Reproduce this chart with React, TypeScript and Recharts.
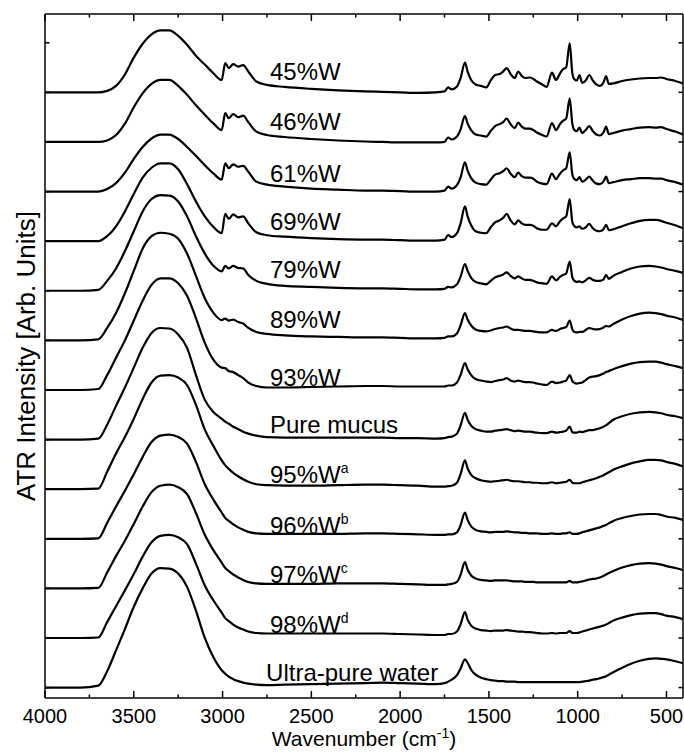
import React from 'react';
import { LineChart, Line, XAxis, YAxis, ReferenceDot } from 'recharts';

const FONT = '"Liberation Sans", Arial, Helvetica, sans-serif';

// Wavenumber grid (cm-1)
const WN = [
  4000, 3900, 3800, 3700, 3650, 3600, 3550, 3500, 3450, 3400, 3350, 3300, 3250, 3200, 3150, 3100, 3050,
  3005, 2985, 2965, 2940, 2912, 2884, 2855, 2810, 2750, 2650, 2500, 2350, 2200, 2100, 2000, 1900, 1800,
  1750, 1730, 1710, 1680, 1660, 1635, 1620, 1600, 1575, 1545, 1515, 1490, 1465, 1440, 1420, 1400, 1378, 1355, 1335, 1315, 1295, 1270, 1250, 1230, 1200,
  1175, 1145, 1122, 1100, 1082, 1065, 1045, 1030, 1018, 1005, 990, 975, 955, 935, 915, 895, 875, 855, 840, 825, 800, 750, 700, 650, 600, 560, 530, 500, 450, 407,
];

// Intensities above each spectrum's own baseline (arb. units)
const W45 = [
  0, 0, 0, 0, 0.03, 0.13, 0.36, 0.70, 0.98, 1.17, 1.25, 1.25, 1.14, 0.96, 0.74, 0.56, 0.38,
  0.25, 0.59, 0.49, 0.57, 0.52, 0.55, 0.42, 0.22, 0.15, 0.11, 0.07, 0.04, 0.02, 0.01, 0, -0.01, 0,
  0.02, 0.10, 0.06, 0.12, 0.28, 0.60, 0.42, 0.25, 0.16, 0.13, 0.10, 0.24, 0.35, 0.37, 0.42, 0.49, 0.37, 0.29, 0.42, 0.33, 0.29, 0.30, 0.27, 0.22, 0.16,
  0.11, 0.40, 0.25, 0.38, 0.47, 0.50, 0.99, 0.38, 0.26, 0.24, 0.35, 0.19, 0.24, 0.35, 0.24, 0.16, 0.13, 0.20, 0.33, 0.17, 0.18, 0.23, 0.26, 0.28, 0.29, 0.29, 0.30, 0.27, 0.23, 0.18,
];
const W46 = [
  0, 0, 0, 0, 0.03, 0.14, 0.37, 0.70, 0.98, 1.17, 1.25, 1.25, 1.13, 0.95, 0.74, 0.55, 0.37,
  0.24, 0.58, 0.48, 0.56, 0.50, 0.53, 0.40, 0.21, 0.14, 0.10, 0.06, 0.03, 0.01, 0.0, -0.01, -0.01, -0.01,
  0.0, 0.09, 0.05, 0.11, 0.25, 0.52, 0.37, 0.24, 0.15, 0.13, 0.11, 0.22, 0.32, 0.36, 0.40, 0.47, 0.36, 0.28, 0.39, 0.31, 0.27, 0.27, 0.24, 0.19, 0.14,
  0.11, 0.38, 0.24, 0.36, 0.43, 0.47, 0.88, 0.36, 0.24, 0.22, 0.29, 0.18, 0.24, 0.32, 0.22, 0.15, 0.13, 0.19, 0.31, 0.16, 0.18, 0.23, 0.26, 0.29, 0.30, 0.29, 0.30, 0.26, 0.21, 0.15,
];
const W61 = [
  0, 0, 0, 0, 0.05, 0.17, 0.38, 0.66, 0.90, 1.07, 1.15, 1.15, 1.06, 0.90, 0.72, 0.53, 0.36,
  0.24, 0.57, 0.47, 0.55, 0.50, 0.52, 0.40, 0.20, 0.14, 0.10, 0.06, 0.04, 0.02, 0.02, 0.01, 0.0, 0.0,
  0.02, 0.10, 0.06, 0.13, 0.28, 0.59, 0.42, 0.27, 0.18, 0.15, 0.14, 0.24, 0.34, 0.37, 0.41, 0.47, 0.36, 0.29, 0.38, 0.31, 0.28, 0.28, 0.26, 0.20, 0.16,
  0.15, 0.36, 0.25, 0.36, 0.43, 0.47, 0.79, 0.34, 0.25, 0.23, 0.29, 0.20, 0.24, 0.30, 0.22, 0.16, 0.15, 0.20, 0.30, 0.17, 0.19, 0.23, 0.25, 0.27, 0.27, 0.26, 0.26, 0.23, 0.19, 0.14,
];
const W69 = [
  0, 0, 0, 0, 0.10, 0.30, 0.60, 0.95, 1.28, 1.48, 1.57, 1.57, 1.45, 1.15, 0.80, 0.50, 0.28,
  0.16, 0.55, 0.45, 0.54, 0.48, 0.50, 0.36, 0.18, 0.12, 0.09, 0.06, 0.04, 0.03, 0.03, 0.02, 0.01, 0.01,
  0.03, 0.12, 0.08, 0.16, 0.35, 0.70, 0.50, 0.32, 0.20, 0.17, 0.16, 0.28, 0.38, 0.42, 0.47, 0.55, 0.42, 0.34, 0.42, 0.36, 0.33, 0.33, 0.31, 0.26, 0.23,
  0.23, 0.36, 0.30, 0.40, 0.46, 0.50, 0.85, 0.38, 0.30, 0.28, 0.30, 0.25, 0.28, 0.35, 0.26, 0.21, 0.20, 0.24, 0.33, 0.22, 0.24, 0.30, 0.36, 0.41, 0.43, 0.43, 0.41, 0.37, 0.32, 0.26,
];
const W79 = [
  0, 0, 0, 0.02, 0.20, 0.45, 0.80, 1.20, 1.60, 1.85, 1.93, 1.92, 1.80, 1.50, 1.10, 0.75, 0.50,
  0.39, 0.50, 0.45, 0.50, 0.46, 0.45, 0.32, 0.20, 0.14, 0.10, 0.08, 0.06, 0.05, 0.05, 0.04, 0.03, 0.03,
  0.04, 0.08, 0.07, 0.13, 0.28, 0.54, 0.40, 0.26, 0.18, 0.15, 0.13, 0.20, 0.27, 0.30, 0.33, 0.37, 0.30, 0.25, 0.29, 0.25, 0.22, 0.22, 0.20, 0.17, 0.15,
  0.14, 0.29, 0.21, 0.28, 0.32, 0.35, 0.59, 0.27, 0.20, 0.18, 0.19, 0.17, 0.21, 0.26, 0.22, 0.20, 0.20, 0.23, 0.32, 0.24, 0.30, 0.38, 0.45, 0.49, 0.50, 0.49, 0.47, 0.44, 0.40, 0.36,
];
const W89 = [
  0, 0, 0, 0.02, 0.25, 0.55, 0.95, 1.40, 1.85, 2.10, 2.17, 2.15, 2.05, 1.75, 1.30, 0.85, 0.55,
  0.41, 0.44, 0.40, 0.42, 0.37, 0.34, 0.25, 0.17, 0.13, 0.10, 0.08, 0.07, 0.06, 0.06, 0.05, 0.04, 0.04,
  0.05, 0.08, 0.08, 0.14, 0.30, 0.55, 0.42, 0.30, 0.22, 0.19, 0.18, 0.20, 0.23, 0.25, 0.26, 0.28, 0.24, 0.21, 0.21, 0.20, 0.19, 0.19, 0.18, 0.17, 0.16,
  0.16, 0.21, 0.19, 0.23, 0.25, 0.27, 0.40, 0.22, 0.17, 0.16, 0.17, 0.17, 0.21, 0.25, 0.23, 0.22, 0.23, 0.26, 0.29, 0.28, 0.33, 0.42, 0.49, 0.54, 0.56, 0.55, 0.53, 0.50, 0.46, 0.41,
];
const W93 = [
  0, 0, 0, 0.02, 0.30, 0.65, 1.00, 1.40, 1.80, 2.12, 2.25, 2.25, 2.15, 1.90, 1.45, 0.95, 0.60,
  0.45, 0.44, 0.38, 0.36, 0.30, 0.24, 0.15, 0.08, 0.05, 0.05, 0.06, 0.07, 0.08, 0.08, 0.07, 0.07, 0.07,
  0.07, 0.09, 0.09, 0.15, 0.30, 0.54, 0.42, 0.30, 0.22, 0.19, 0.17, 0.16, 0.18, 0.20, 0.21, 0.24, 0.19, 0.17, 0.19, 0.17, 0.16, 0.16, 0.15, 0.13, 0.11,
  0.10, 0.17, 0.14, 0.15, 0.17, 0.19, 0.30, 0.18, 0.14, 0.13, 0.14, 0.15, 0.20, 0.25, 0.27, 0.28, 0.30, 0.33, 0.36, 0.38, 0.42, 0.48, 0.53, 0.56, 0.57, 0.57, 0.55, 0.52, 0.48, 0.44,
];
const MUCUS = [
  0, 0, 0, 0.02, 0.30, 0.68, 1.05, 1.45, 1.85, 2.15, 2.25, 2.24, 2.12, 1.85, 1.30, 0.80, 0.55,
  0.42, 0.36, 0.32, 0.26, 0.21, 0.16, 0.12, 0.08, 0.05, 0.04, 0.04, 0.04, 0.04, 0.04, 0.03, 0.03, 0.02,
  0.03, 0.05, 0.06, 0.12, 0.28, 0.54, 0.40, 0.28, 0.21, 0.18, 0.16, 0.16, 0.18, 0.19, 0.20, 0.21, 0.19, 0.17, 0.18, 0.17, 0.16, 0.16, 0.15, 0.14, 0.13,
  0.13, 0.16, 0.14, 0.15, 0.16, 0.18, 0.26, 0.15, 0.14, 0.14, 0.16, 0.15, 0.17, 0.19, 0.19, 0.21, 0.23, 0.26, 0.29, 0.33, 0.40, 0.47, 0.52, 0.55, 0.56, 0.55, 0.53, 0.50, 0.47, 0.43,
];
const W95 = [
  0, 0, 0, 0.01, 0.35, 0.72, 1.05, 1.42, 1.82, 2.15, 2.29, 2.30, 2.25, 2.10, 1.70, 1.20, 0.86,
  0.58, 0.48, 0.41, 0.33, 0.26, 0.20, 0.15, 0.10, 0.08, 0.07, 0.07, 0.08, 0.09, 0.09, 0.08, 0.07, 0.05,
  0.05, 0.06, 0.07, 0.13, 0.30, 0.58, 0.42, 0.29, 0.22, 0.18, 0.16, 0.15, 0.16, 0.17, 0.18, 0.19, 0.17, 0.16, 0.16, 0.15, 0.14, 0.14, 0.13, 0.13, 0.12,
  0.12, 0.14, 0.12, 0.13, 0.14, 0.15, 0.19, 0.13, 0.12, 0.12, 0.12, 0.14, 0.16, 0.18, 0.20, 0.22, 0.25, 0.28, 0.31, 0.34, 0.39, 0.46, 0.52, 0.56, 0.59, 0.59, 0.58, 0.55, 0.51, 0.46,
];
const W96 = [
  0, 0, 0, 0.01, 0.32, 0.65, 0.97, 1.30, 1.65, 1.95, 2.08, 2.10, 2.05, 1.92, 1.55, 1.10, 0.78,
  0.53, 0.42, 0.36, 0.29, 0.23, 0.18, 0.14, 0.11, 0.10, 0.10, 0.10, 0.10, 0.11, 0.11, 0.10, 0.09, 0.08,
  0.08, 0.09, 0.09, 0.13, 0.27, 0.53, 0.38, 0.25, 0.18, 0.15, 0.14, 0.13, 0.14, 0.14, 0.14, 0.15, 0.14, 0.13, 0.13, 0.12, 0.12, 0.11, 0.11, 0.11, 0.10,
  0.10, 0.11, 0.10, 0.10, 0.11, 0.11, 0.13, 0.10, 0.10, 0.10, 0.11, 0.13, 0.15, 0.17, 0.19, 0.21, 0.23, 0.26, 0.28, 0.31, 0.36, 0.42, 0.46, 0.49, 0.50, 0.50, 0.48, 0.45, 0.42, 0.38,
];
const W97 = [
  0, 0, 0, 0.01, 0.32, 0.65, 0.96, 1.30, 1.65, 1.94, 2.07, 2.09, 2.04, 1.90, 1.52, 1.08, 0.76,
  0.52, 0.41, 0.35, 0.28, 0.22, 0.17, 0.13, 0.10, 0.09, 0.09, 0.09, 0.10, 0.10, 0.10, 0.09, 0.08, 0.07,
  0.07, 0.08, 0.09, 0.13, 0.27, 0.53, 0.38, 0.26, 0.20, 0.17, 0.16, 0.15, 0.16, 0.16, 0.16, 0.16, 0.15, 0.14, 0.14, 0.14, 0.13, 0.13, 0.13, 0.12, 0.12,
  0.12, 0.12, 0.12, 0.12, 0.12, 0.12, 0.15, 0.12, 0.12, 0.12, 0.13, 0.14, 0.16, 0.18, 0.19, 0.20, 0.22, 0.25, 0.28, 0.31, 0.35, 0.42, 0.47, 0.50, 0.51, 0.50, 0.48, 0.45, 0.41, 0.37,
];
const W98 = [
  0, 0, 0, 0.01, 0.32, 0.64, 0.96, 1.29, 1.64, 1.93, 2.06, 2.08, 2.03, 1.89, 1.50, 1.06, 0.75,
  0.51, 0.40, 0.34, 0.27, 0.21, 0.17, 0.13, 0.10, 0.09, 0.09, 0.09, 0.09, 0.09, 0.09, 0.08, 0.07, 0.06,
  0.06, 0.08, 0.08, 0.13, 0.27, 0.52, 0.37, 0.25, 0.19, 0.16, 0.15, 0.14, 0.15, 0.15, 0.15, 0.16, 0.15, 0.14, 0.13, 0.13, 0.12, 0.12, 0.11, 0.10, 0.09,
  0.09, 0.10, 0.09, 0.10, 0.10, 0.10, 0.14, 0.10, 0.10, 0.10, 0.11, 0.13, 0.15, 0.17, 0.19, 0.21, 0.23, 0.25, 0.27, 0.30, 0.35, 0.41, 0.46, 0.49, 0.50, 0.50, 0.48, 0.45, 0.42, 0.38,
];
const WATER = [
  0, 0, 0, 0.04, 0.33, 0.75, 1.18, 1.63, 2.00, 2.30, 2.41, 2.40, 2.30, 2.03, 1.55, 1.00, 0.60,
  0.35, 0.28, 0.22, 0.17, 0.13, 0.10, 0.08, 0.06, 0.05, 0.06, 0.07, 0.08, 0.09, 0.10, 0.09, 0.08, 0.07,
  0.09, 0.12, 0.16, 0.25, 0.38, 0.57, 0.50, 0.36, 0.26, 0.20, 0.17, 0.15, 0.14, 0.13, 0.13, 0.12, 0.12, 0.12, 0.11, 0.11, 0.11, 0.11, 0.11, 0.11, 0.11,
  0.11, 0.11, 0.11, 0.11, 0.11, 0.11, 0.11, 0.11, 0.11, 0.11, 0.11, 0.12, 0.13, 0.14, 0.16, 0.17, 0.19, 0.21, 0.23, 0.26, 0.31, 0.40, 0.48, 0.54, 0.58, 0.59, 0.58, 0.57, 0.53, 0.49,
];

// Series, top to bottom
const SERIES_KEYS = ['w45', 'w46', 'w61', 'w69', 'w79', 'w89', 'w93', 'mucus', 'w95', 'w96', 'w97', 'w98', 'water'];
const SERIES_VALUES = [W45, W46, W61, W69, W79, W89, W93, MUCUS, W95, W96, W97, W98, WATER];
const LABEL_TEXT = ['45%W', '46%W', '61%W', '69%W', '79%W', '89%W', '93%W', 'Pure mucus', '95%W', '96%W', '97%W', '98%W', 'Ultra-pure water'];
const LABEL_SUP = ['', '', '', '', '', '', '', '', 'a', 'b', 'c', 'd', ''];
const LABEL_WN = [2733, 2733, 2733, 2733, 2733, 2733, 2733, 2733, 2733, 2733, 2733, 2733, 2755];
const LABEL_LIFT = [0.25, 0.24, 0.2, 0.23, 0.26, 0.25, 0.09, 0.14, 0.13, 0.1, 0.11, 0.1, 0.14];

const X_TICKS = [4000, 3750, 3500, 3250, 3000, 2750, 2500, 2250, 2000, 1750, 1500, 1250, 1000, 750, 500];
const Y_TICKS = [0, 1, 2, 3, 4, 5, 6, 7, 8, 9, 10, 11, 12, 13];

const N = SERIES_KEYS.length;
const ROWS = WN.map((wn, i) => {
  const row: Record<string, number> = { wn };
  SERIES_KEYS.forEach((k, s) => {
    row[k] = N - 1 - s + SERIES_VALUES[s][i];
  });
  return row;
});

const BottomTick = (p: any) => {
  const major = p.payload.value % 500 === 0;
  return (
    <g>
      <line x1={p.x} x2={p.x} y1={p.y} y2={p.y - (major ? 7 : 3.5)} stroke="#000" strokeWidth={1.5} />
      {major && (
        <text x={p.x} y={p.y + 25} textAnchor="middle" fontSize={20} fontFamily={FONT} fill="#000">
          {p.payload.value}
        </text>
      )}
    </g>
  );
};
const TopTick = (p: any) => {
  const major = p.payload.value % 500 === 0;
  return <line x1={p.x} x2={p.x} y1={p.y} y2={p.y + (major ? 7 : 3.5)} stroke="#000" strokeWidth={1.5} />;
};
const LeftTick = (p: any) => <line x1={p.x} x2={p.x + 4.5} y1={p.y} y2={p.y} stroke="#000" strokeWidth={1.5} />;
const RightTick = (p: any) => <line x1={p.x} x2={p.x - 4.5} y1={p.y} y2={p.y} stroke="#000" strokeWidth={1.5} />;

const XTitle = (p: any) => {
  const vb = p.viewBox || { x: 45, y: 698, width: 638, height: 1 };
  return (
    <text x={vb.x + vb.width / 2} y={vb.y + 48} textAnchor="middle" fontSize={21} fontFamily={FONT} fill="#000">
      Wavenumber (cm
      <tspan dy={-8} fontSize={14}>-1</tspan>
      <tspan dy={8}>)</tspan>
    </text>
  );
};
const YTitle = (p: any) => {
  const vb = p.viewBox || { x: 44, y: 14, width: 1, height: 684 };
  const x = vb.x + vb.width - 10;
  const y = vb.y + vb.height / 2;
  return (
    <text x={x} y={y} transform={`rotate(-90, ${x}, ${y})`} textAnchor="middle" fontSize={26} fontFamily={FONT} fill="#000">
      ATR Intensity [Arb. Units]
    </text>
  );
};

const makeLabel = (k: number) => (p: any) => {
  const vb = p.viewBox;
  if (!vb) return null;
  const x = vb.x + (vb.width || 0) / 2;
  const y = vb.y + (vb.height || 0) / 2;
  return (
    <text x={x} y={y} fontSize={24} fontFamily={FONT} fill="#000">
      {LABEL_TEXT[k]}
      {LABEL_SUP[k] && (
        <tspan dy={-10} fontSize={14}>
          {LABEL_SUP[k]}
        </tspan>
      )}
    </text>
  );
};

const AXIS_LINE = { stroke: '#000', strokeWidth: 1.5 };
const PAGE_CSS = 'html,body{margin:0;padding:0;overflow:hidden;background:#fff}';

export default function App() {
  return (
    <div style={{ width: 684, height: 755, overflow: 'hidden', background: '#fff' }}>
      <style>{PAGE_CSS}</style>
      <LineChart width={684} height={755} data={ROWS} margin={{ top: 13, right: 0, left: 44, bottom: 56 }}>
        <XAxis
          xAxisId="b"
          dataKey="wn"
          type="number"
          domain={[407, 4000]}
          reversed
          allowDataOverflow
          ticks={X_TICKS}
          interval={0}
          tickSize={0}
          tickMargin={0}
          tickLine={false}
          height={1}
          axisLine={AXIS_LINE}
          tick={BottomTick}
          label={XTitle}
        />
        <XAxis
          xAxisId="t"
          orientation="top"
          dataKey="wn"
          type="number"
          domain={[407, 4000]}
          reversed
          allowDataOverflow
          ticks={X_TICKS}
          interval={0}
          tickSize={0}
          tickMargin={0}
          tickLine={false}
          height={1}
          axisLine={AXIS_LINE}
          tick={TopTick}
        />
        <YAxis
          yAxisId="l"
          type="number"
          domain={[-0.21, 13.58]}
          allowDataOverflow
          ticks={Y_TICKS}
          interval={0}
          tickSize={0}
          tickMargin={0}
          tickLine={false}
          width={1}
          axisLine={AXIS_LINE}
          tick={LeftTick}
          label={YTitle}
        />
        <YAxis
          yAxisId="r"
          orientation="right"
          type="number"
          domain={[-0.21, 13.58]}
          allowDataOverflow
          ticks={Y_TICKS}
          interval={0}
          tickSize={0}
          tickMargin={0}
          tickLine={false}
          width={1}
          axisLine={AXIS_LINE}
          tick={RightTick}
        />
        {SERIES_KEYS.map((k) => (
          <Line
            key={k}
            xAxisId="b"
            yAxisId="l"
            dataKey={k}
            type="monotone"
            stroke="#000"
            strokeWidth={2.2}
            dot={false}
            activeDot={false}
            isAnimationActive={false}
          />
        ))}
        {SERIES_KEYS.map((k, s) => (
          <ReferenceDot
            key={'lbl-' + k}
            xAxisId="b"
            yAxisId="l"
            x={LABEL_WN[s]}
            y={N - 1 - s + LABEL_LIFT[s]}
            r={1}
            fill="none"
            stroke="none"
            label={makeLabel(s)}
          />
        ))}
      </LineChart>
    </div>
  );
}
